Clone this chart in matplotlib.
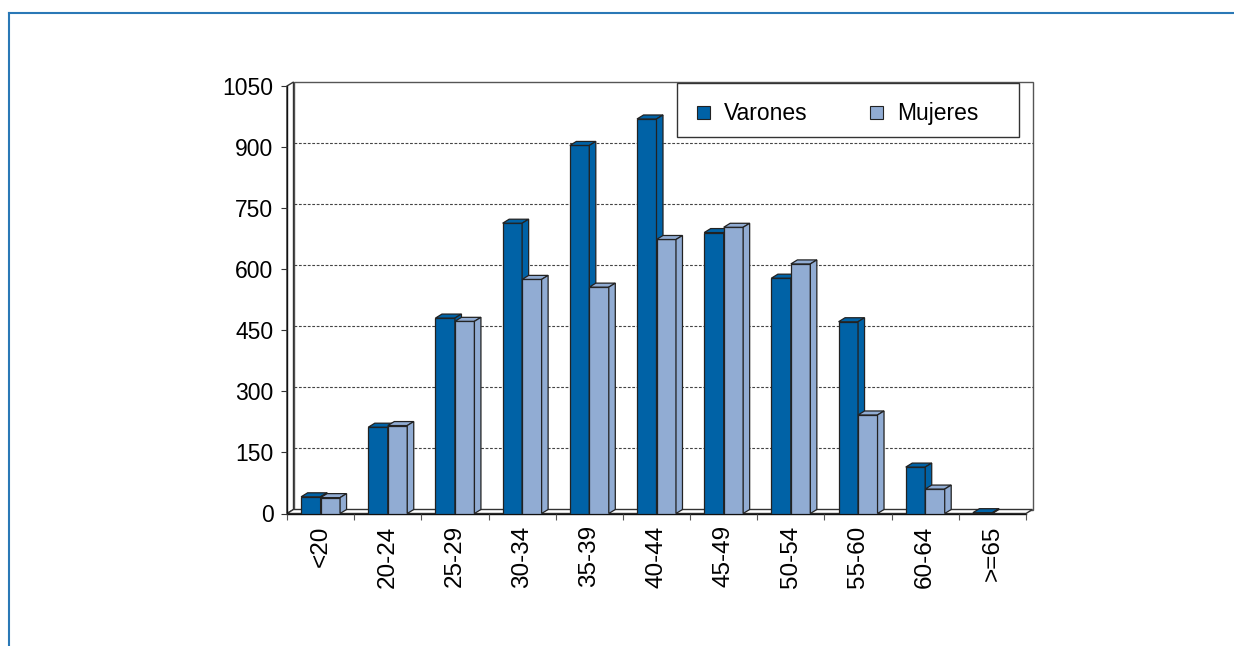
import matplotlib.pyplot as plt
from matplotlib.lines import Line2D
from matplotlib.patches import Rectangle
import numpy as np

plt.rcParams["font.family"] = ["Liberation Sans", "DejaVu Sans"]

# Age groups and counts per sex
grupos = ["<20", "20-24", "25-29", "30-34", "35-39", "40-44",
          "45-49", "50-54", "55-60", "60-64", ">=65"]
varones = [41, 212, 480, 713, 904, 969, 690, 578, 471, 114, 2]
mujeres = [39, 216, 472, 575, 556, 673, 703, 613, 242, 60, 0]
y_ticks = [0, 150, 300, 450, 600, 750, 900, 1050]

AZUL = "#0062a6"
CELESTE = "#91acd3"
BORDE = "#222222"
MARCO = "#2a78b6"

W, H = 1234, 646
fig = plt.figure(figsize=(W / 100, H / 100), dpi=100)


def px(x, y):
    """Figure fraction from pixel position (origin top-left)."""
    return x / W, 1 - y / H


ax = fig.add_axes([287 / W, 1 - 513.5 / H, 739 / W, 427.5 / H])
ax.patch.set_visible(False)
n = len(grupos)
ymax = y_ticks[-1]
ax.set_xlim(0, n)
ax.set_ylim(0, ymax)

# depth of the pseudo 3D effect, in data units
dx = 6.5 / 739 * n
dy = 4.0 / 427.5 * ymax

# back wall, left wall and floor
ax.fill([dx, n + dx, n + dx, dx], [dy, dy, ymax + dy, ymax + dy],
        facecolor="white", edgecolor="#555555", lw=1, clip_on=False, zorder=0)
ax.fill([0, dx, dx, 0], [0, dy, ymax + dy, ymax],
        facecolor="white", edgecolor="#333333", lw=1, clip_on=False, zorder=0.2)
ax.fill([0, n, n + dx, dx], [0, 0, dy, dy],
        facecolor="white", edgecolor="#333333", lw=1, clip_on=False, zorder=0.2)

for v in y_ticks[1:-1]:
    ax.plot([dx, n + dx], [v + dy, v + dy], ls=(0, (2.5, 1.5)), lw=0.8,
            color="#444444", clip_on=False, zorder=0.1)

bw = 0.29
x_var = np.arange(n) + 0.21
x_muj = x_var + bw


def barras_3d(x0, valores, color, z):
    ax.bar(x0, valores, bw, align="edge", color=color, edgecolor=BORDE,
           linewidth=0.9, zorder=z)
    for xi, v in zip(x0, valores):
        if v <= 0:
            continue
        # top face
        ax.fill([xi, xi + bw, xi + bw + dx, xi + dx], [v, v, v + dy, v + dy],
                facecolor=color, edgecolor=BORDE, lw=0.9, clip_on=False, zorder=z)
        # side face
        ax.fill([xi + bw, xi + bw + dx, xi + bw + dx, xi + bw],
                [0, dy, v + dy, v],
                facecolor=color, edgecolor=BORDE, lw=0.9, clip_on=False, zorder=z)


barras_3d(x_var, varones, AZUL, 2)
barras_3d(x_muj, mujeres, CELESTE, 3)

for s in ["top", "right"]:
    ax.spines[s].set_visible(False)
for s in ["left", "bottom"]:
    ax.spines[s].set_color("#111111")
    ax.spines[s].set_linewidth(1)
    ax.spines[s].set_zorder(1)

ax.set_yticks(y_ticks)
ax.tick_params(axis="y", length=4.3, width=0.8, pad=5.5, labelsize=16.5,
               color="#333333")
ax.set_xticks(range(n + 1))
ax.set_xticklabels([])
ax.set_xticks(np.arange(n) + 0.5, minor=True)
ax.set_xticklabels(grupos, minor=True, rotation=90)
ax.tick_params(axis="x", which="major", length=4.3, width=0.8, color="#555555")
ax.tick_params(axis="x", which="minor", length=0, pad=8.5, labelsize=17.5)

# legend box
fig.add_artist(Rectangle(px(677, 137), 342 / W, 54 / H, transform=fig.transFigure,
                         facecolor="white", edgecolor="#333333", lw=1, zorder=5))
for xs, xt, color, etiqueta in [(697, 724, AZUL, "Varones"),
                                (870, 897, CELESTE, "Mujeres")]:
    fig.add_artist(Rectangle(px(xs, 119), 13 / W, 13 / H,
                             transform=fig.transFigure, facecolor=color,
                             edgecolor=BORDE, lw=0.8, zorder=6))
    fig.text(*px(xt, 120), etiqueta, fontsize=16.5, va="baseline", ha="left",
             zorder=6)

# outer frame
fig.add_artist(Line2D([9 / W, 1], [1 - 13 / H] * 2, color=MARCO, lw=1.5))
fig.add_artist(Line2D([9 / W] * 2, [0, 1 - 13 / H], color=MARCO, lw=1.5))

fig.savefig("out.png", dpi=100)
